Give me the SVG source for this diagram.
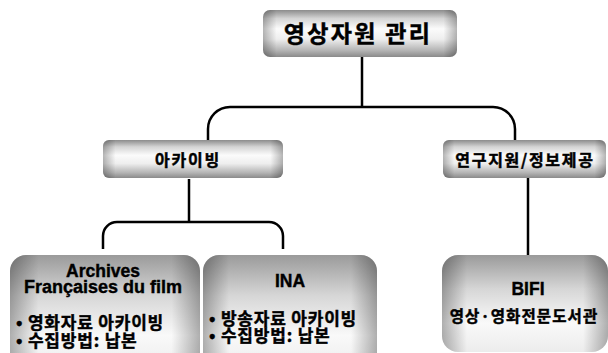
<svg xmlns="http://www.w3.org/2000/svg" width="608" height="353" viewBox="0 0 608 353">
<defs>
<linearGradient id="gv" x1="0" y1="0" x2="0" y2="1">
<stop offset="0" stop-color="#8c8c8c"/>
<stop offset="0.18" stop-color="#d4d4d4"/>
<stop offset="0.4" stop-color="#fbfbfb"/>
<stop offset="0.62" stop-color="#eeeeee"/>
<stop offset="0.86" stop-color="#b4b4b4"/>
<stop offset="1" stop-color="#8a8a8a"/>
</linearGradient>
<linearGradient id="gh" x1="0" y1="0" x2="1" y2="0">
<stop offset="0" stop-color="#000" stop-opacity="0.28"/>
<stop offset="0.07" stop-color="#000" stop-opacity="0"/>
<stop offset="0.93" stop-color="#000" stop-opacity="0"/>
<stop offset="1" stop-color="#000" stop-opacity="0.28"/>
</linearGradient>
<linearGradient id="bv" x1="0" y1="0" x2="0" y2="1">
<stop offset="0" stop-color="#9a9a9a"/>
<stop offset="0.35" stop-color="#d6d6d6"/>
<stop offset="0.7" stop-color="#f9f9f9"/>
<stop offset="1" stop-color="#ececec"/>
</linearGradient>
<linearGradient id="bh" x1="0" y1="0" x2="1" y2="0">
<stop offset="0" stop-color="#000" stop-opacity="0.3"/>
<stop offset="0.15" stop-color="#000" stop-opacity="0"/>
<stop offset="0.85" stop-color="#000" stop-opacity="0"/>
<stop offset="1" stop-color="#000" stop-opacity="0.3"/>
</linearGradient>
<style>
.ko{font-family:"Noto Sans CJK KR","Liberation Sans",sans-serif;font-weight:bold;fill:#000;stroke:#000;stroke-width:0.45}
.la{font-family:"Liberation Sans","Noto Sans CJK KR",sans-serif;font-weight:bold;fill:#000;stroke:#000;stroke-width:0.4}
.c{fill:none;stroke:#000;stroke-width:2.5}
</style>
</defs>
<g id="connectors">
<path class="c" d="M362,57 V107"/>
<path class="c" d="M208,140 V129 A22,22 0 0 1 230,107 H493 A22,22 0 0 1 515,129 V140"/>
<path class="c" d="M189,179 V222"/>
<path class="c" d="M103,249 V236 A14,14 0 0 1 117,222 H269 A14,14 0 0 1 283,236 V249"/>
<path class="c" d="M528,177 V255"/>
</g>
<g id="n-root">
<rect x="263" y="10" width="194" height="47" rx="7" fill="url(#gv)"/>
<rect x="263" y="10" width="194" height="47" rx="7" fill="url(#gh)"/>
<text class="ko" x="358" y="42" font-size="23" letter-spacing="2.3" text-anchor="middle">영상자원 관리</text>
</g>
<g id="n-archiving">
<rect x="103" y="140" width="180" height="38" rx="6" fill="url(#gv)"/>
<rect x="103" y="140" width="180" height="38" rx="6" fill="url(#gh)"/>
<text class="ko" x="188" y="166" font-size="16" letter-spacing="1.8" text-anchor="middle">아카이빙</text>
</g>
<g id="n-research">
<rect x="443" y="140" width="163" height="38" rx="6" fill="url(#gv)"/>
<rect x="443" y="140" width="163" height="38" rx="6" fill="url(#gh)"/>
<text class="ko" x="525" y="166" font-size="16" letter-spacing="1.7" text-anchor="middle">연구지원/정보제공</text>
</g>
<g id="n-aff">
<rect x="10" y="255" width="190" height="115" rx="16" fill="url(#bv)"/>
<rect x="10" y="255" width="190" height="115" rx="16" fill="url(#bh)"/>
<text class="la" x="103" y="277" font-size="17.5" text-anchor="middle">Archives</text>
<text class="la" x="103" y="293" font-size="18" text-anchor="middle">Françaises du film</text>
<text class="ko" x="16" y="329" font-size="17" letter-spacing="0.8">• 영화자료 아카이빙</text>
<text class="ko" x="16" y="347" font-size="17" letter-spacing="0.8">• 수집방법: 납본</text>
</g>
<g id="n-ina">
<rect x="203" y="255" width="174" height="115" rx="16" fill="url(#bv)"/>
<rect x="203" y="255" width="174" height="115" rx="16" fill="url(#bh)"/>
<text class="la" x="290" y="287" font-size="17.5" text-anchor="middle">INA</text>
<text class="ko" x="209" y="325" font-size="17" letter-spacing="0.8">• 방송자료 아카이빙</text>
<text class="ko" x="209" y="342" font-size="17" letter-spacing="0.8">• 수집방법: 납본</text>
</g>
<g id="n-bifi">
<rect x="442" y="255" width="166" height="97" rx="16" fill="url(#bv)"/>
<rect x="442" y="255" width="166" height="97" rx="16" fill="url(#bh)"/>
<text class="la" x="528" y="295" font-size="17.5" text-anchor="middle">BIFI</text>
<text class="ko" x="524" y="322" font-size="15.5" letter-spacing="1.1" text-anchor="middle">영상·영화전문도서관</text>
</g>
</svg>
